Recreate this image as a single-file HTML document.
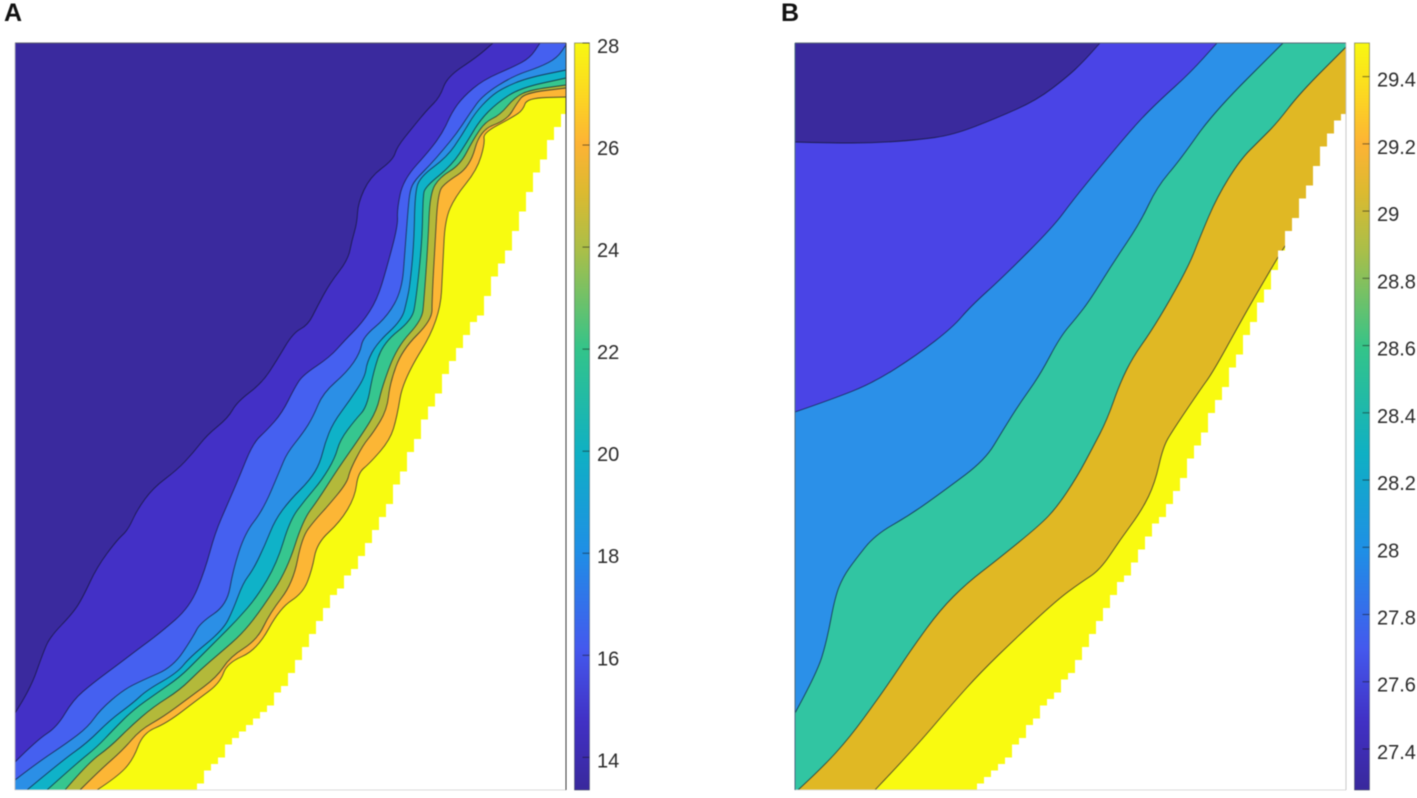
<!DOCTYPE html>
<html lang="en">
<head>
<meta charset="utf-8">
<title>Contour panels A and B</title>
<style>
  html, body { margin: 0; padding: 0; background: #fff; }
  svg { display: block; }
  text { font-family: "Liberation Sans", sans-serif; }
</style>
</head>
<body>
<svg id="figure" xmlns="http://www.w3.org/2000/svg" width="1417" height="798" viewBox="0 0 1417 798">
  <defs>
    <linearGradient id="cmap" x1="0" y1="1" x2="0" y2="0">
      <stop offset="0" stop-color="#39299c"/>
      <stop offset="0.09" stop-color="#4130c4"/>
      <stop offset="0.19" stop-color="#4459ee"/>
      <stop offset="0.32" stop-color="#1f8fe6"/>
      <stop offset="0.45" stop-color="#0fb0c4"/>
      <stop offset="0.59" stop-color="#33c48a"/>
      <stop offset="0.72" stop-color="#a8bf4a"/>
      <stop offset="0.80" stop-color="#dcba30"/>
      <stop offset="0.865" stop-color="#fdb335"/>
      <stop offset="0.93" stop-color="#fcd722"/>
      <stop offset="1" stop-color="#f8f812"/>
    </linearGradient>
  </defs>
  <g id="root" style="filter:blur(0.55px)">
    <g id="panel-a"></g>
    <g id="panel-b"></g>
    <text x="4" y="21" font-size="25" font-weight="bold" fill="#111">A</text>
    <text x="781" y="21" font-size="25" font-weight="bold" fill="#111">B</text>
  </g>
</svg>
<script>
// Shared data-axis extents (distance along x, distance along y from the lower-left corner)
const xExtent = [0, 551];
const yExtent = [0, 747];

// Panel A: contour lines, low to high temperature
const contourA1 = [[0,77],[15,100],[28,137],[35,153],[58,177],[68,193],[82,223],[102,250],[113,260],[122,280],[138,302],[162,320],[178,337],[192,355],[213,372],[222,388],[247,407],[262,430],[278,457],[293,465],[302,483],[315,507],[333,530],[337,550],[342,567],[343,587],[355,613],[378,630],[382,643],[398,663],[412,680],[425,693],[432,713],[462,733],[478,747]];
const contourA2 = [[0,28],[22,50],[42,63],[58,90],[78,107],[105,127],[122,140],[145,157],[175,183],[190,220],[200,257],[213,287],[223,310],[238,347],[252,360],[267,377],[280,403],[288,415],[315,433],[330,450],[347,467],[362,490],[372,523],[383,565],[382,580],[388,610],[415,640],[428,658],[437,678],[448,693],[468,710],[498,723],[515,732],[525,747]];
const contourA3 = [[0,10],[22,27],[52,47],[73,63],[85,80],[108,100],[128,110],[158,123],[178,153],[185,167],[212,185],[218,220],[230,257],[248,280],[265,320],[272,337],[288,357],[298,373],[308,397],[332,418],[345,437],[348,453],[372,473],[387,500],[390,540],[393,580],[395,600],[400,610],[415,625],[428,640],[442,657],[455,677],[468,695],[498,714],[525,723],[542,732],[551,745]];
const contourA4 = [[12,0],[48,30],[72,47],[95,70],[118,87],[132,100],[162,117],[175,133],[208,160],[218,180],[228,207],[238,220],[250,245],[260,270],[275,290],[295,310],[305,327],[310,347],[318,367],[335,390],[350,413],[352,428],[362,447],[387,470],[392,490],[395,505],[399,547],[400,597],[405,613],[432,633],[447,655],[460,677],[475,693],[488,702],[512,712],[551,720]];
const contourA5 = [[32,0],[62,27],[82,43],[98,60],[118,80],[142,97],[165,113],[182,130],[202,150],[222,170],[242,193],[262,227],[275,270],[290,290],[307,310],[320,332],[325,350],[340,370],[352,383],[358,417],[368,447],[397,470],[401,490],[407,547],[408,593],[410,603],[437,625],[452,648],[465,670],[482,687],[505,702],[551,712]];
const contourA6 = [[50,0],[73,27],[95,43],[115,63],[138,83],[165,100],[185,120],[205,137],[228,157],[248,183],[272,220],[288,270],[303,290],[322,320],[348,357],[362,380],[367,403],[382,443],[407,470],[409,490],[413,547],[415,597],[425,613],[445,625],[458,650],[470,668],[485,675],[500,693],[515,700],[551,705]];
const contourA7 = [[65,0],[85,20],[108,40],[125,60],[148,73],[175,93],[202,113],[215,133],[242,150],[255,177],[278,207],[287,253],[300,270],[312,283],[332,307],[335,320],[348,345],[358,357],[372,380],[375,407],[387,440],[417,470],[417,490],[420,547],[423,597],[430,607],[455,623],[465,660],[492,670],[502,687],[510,697],[551,702]];
const contourA8 = [[82,0],[102,13],[118,30],[128,57],[152,67],[182,90],[205,107],[212,127],[242,140],[265,182],[288,197],[297,220],[302,247],[325,268],[340,293],[343,317],[355,327],[375,350],[382,373],[388,410],[425,470],[428,527],[430,570],[440,593],[462,620],[470,647],[468,657],[498,673],[508,680],[512,692],[551,693]];
const coastA = [[178,0],[218,50],[252,80],[275,113],[302,167],[318,193],[338,220],[355,253],[375,290],[402,350],[425,403],[438,432],[452,457],[465,473],[478,507],[498,553],[518,607],[535,650],[551,680]];

// Panel B: contour lines, low to high temperature
const contourB1 = [[0,648],[35,647],[78,647],[122,650],[158,655],[202,672],[242,690],[272,713],[288,728],[305,747]];
const contourB2 = [[0,378],[35,390],[78,407],[122,435],[158,463],[175,483],[208,513],[258,563],[278,590],[305,623],[342,667],[365,690],[395,717],[422,747]];
const contourB3 = [[0,77],[22,117],[32,150],[40,193],[48,213],[60,230],[80,255],[115,275],[150,300],[190,330],[208,360],[225,387],[245,415],[265,453],[282,473],[295,490],[318,527],[345,567],[362,603],[385,630],[418,677],[488,747]];
const contourB4 = [[3,0],[28,23],[55,53],[82,90],[98,113],[118,143],[145,180],[172,207],[202,230],[245,265],[262,283],[282,313],[298,343],[312,370],[325,407],[338,433],[355,457],[375,490],[395,527],[405,553],[422,593],[445,630],[465,650],[482,667],[505,697],[551,743]];
const contourB5 = [[80,0],[118,40],[158,87],[185,117],[222,153],[262,190],[285,207],[305,220],[325,250],[347,280],[360,307],[368,343],[378,360],[405,400],[418,418],[445,467],[458,490],[483,533],[492,547]];
const coastB = [[180,0],[212,33],[238,70],[265,100],[285,133],[338,227],[378,293],[402,343],[425,393],[442,433],[462,477],[475,510],[492,557],[518,610],[528,643],[545,673],[551,680]];

// Colorbar values
const colorbarDomainA = [13.36, 28];
const colorbarTicksA = [14, 16, 18, 20, 22, 24, 26, 28];
const colorbarLabelsA = ['14', '16', '18', '20', '22', '24', '26', '28'];
const colorbarDomainB = [27.278, 29.5];
const colorbarTicksB = [27.4, 27.6, 27.8, 28, 28.2, 28.4, 28.6, 28.8, 29, 29.2, 29.4];
const colorbarLabelsB = ['27.4', '27.6', '27.8', '28', '28.2', '28.4', '28.6', '28.8', '29', '29.2', '29.4'];

// Band palettes
const bandColorsA = ['#3a2a9e', '#4330c6', '#4560f0', '#2b8fe6', '#0fb2c8', '#36c68f', '#b3b93a', '#fcb635', '#f8fb10'];
const bandColorsB = ['#3a2a9d', '#4a44e6', '#2b90e8', '#31c5a2', '#e0b824', '#f9fa10'];

const SVGNS = 'http://www.w3.org/2000/svg';

function scaleLinear(domain, range) {
  return function (v) {
    return range[0] + (v - domain[0]) / (domain[1] - domain[0]) * (range[1] - range[0]);
  };
}

function linePath(points, sx, sy) {
  const px = points.map(function (p) { return [sx(p[0]), sy(p[1])]; });
  let d = 'M' + px[0][0] + ' ' + px[0][1];
  for (let i = 1; i < px.length - 1; i++) {
    const mx = (px[i][0] + px[i + 1][0]) / 2;
    const my = (px[i][1] + px[i + 1][1]) / 2;
    d += 'Q' + px[i][0] + ' ' + px[i][1] + ' ' + mx + ' ' + my;
  }
  const last = px[px.length - 1];
  return d + 'L' + last[0] + ' ' + last[1];
}

function coastXAt(coast, y) {
  for (let i = 0; i < coast.length - 1; i++) {
    if (y <= coast[i + 1][1]) {
      const t = (y - coast[i][1]) / (coast[i + 1][1] - coast[i][1]);
      return coast[i][0] + t * (coast[i + 1][0] - coast[i][0]);
    }
  }
  return coast[coast.length - 1][0];
}

function landPath(coast, sx, sy) {
  const rowH = 6.5;
  const colW = 7;
  const topY = coast[coast.length - 1][1];
  let d = 'M' + sx(xExtent[1]) + ' ' + sy(yExtent[0]) + 'L' + sx(coast[0][0]) + ' ' + sy(yExtent[0]);
  for (let y = yExtent[0]; y < topY; y += rowH) {
    const cx = Math.round(coastXAt(coast, y + rowH / 2) / colW) * colW;
    const x = sx(Math.min(cx, xExtent[1]));
    d += 'L' + x + ' ' + sy(y) + 'L' + x + ' ' + sy(Math.min(y + rowH, topY));
  }
  return d + 'L' + sx(xExtent[1]) + ' ' + sy(topY) + 'Z';
}

function drawPanel(cfg) {
  const g = document.getElementById(cfg.groupId);
  const sx = scaleLinear(xExtent, [cfg.x0, cfg.x0 + 551]);
  const sy = scaleLinear(yExtent, [790, 43]);

  const base = document.createElementNS(SVGNS, 'rect');
  
  
  base.setAttribute('x', sx(xExtent[0]));
  base.setAttribute('y', sy(yExtent[1]));
  base.setAttribute('width', sx(xExtent[1]) - sx(xExtent[0]));
  base.setAttribute('height', sy(yExtent[0]) - sy(yExtent[1]));
  base.setAttribute('fill', cfg.colors[0]);
  g.appendChild(base);

  cfg.contours.forEach(function (pts, i) {
    const start = pts[0];
    const end = pts[pts.length - 1];
    let d = linePath(pts, sx, sy);
    if (end[1] >= yExtent[1]) d += 'L' + sx(xExtent[1]) + ' ' + sy(yExtent[1]);
    d += 'L' + sx(xExtent[1]) + ' ' + sy(yExtent[0]);
    if (start[0] <= xExtent[0]) d += 'L' + sx(xExtent[0]) + ' ' + sy(yExtent[0]);
    d += 'Z';
    const band = document.createElementNS(SVGNS, 'path');
    
    
    band.setAttribute('d', d);
    band.setAttribute('fill', cfg.colors[i + 1]);
    g.appendChild(band);
  });

  cfg.contours.forEach(function (pts) {
    const line = document.createElementNS(SVGNS, 'path');
    
    
    line.setAttribute('d', linePath(pts, sx, sy));
    line.setAttribute('fill', 'none');
    line.setAttribute('stroke', 'rgba(15,20,40,0.72)');
    line.setAttribute('stroke-width', '0.9');
    line.setAttribute('stroke-linejoin', 'round');
    g.appendChild(line);
  });

  const land = document.createElementNS(SVGNS, 'path');
  
  
  land.setAttribute('d', landPath(cfg.coast, sx, sy));
  land.setAttribute('fill', '#fff');
  g.appendChild(land);

  const edges = [
    [sx(xExtent[0]), sy(yExtent[1]), sx(xExtent[1]), sy(yExtent[1]), cfg.topColor],
    [sx(xExtent[0]), sy(yExtent[0]), sx(xExtent[1]), sy(yExtent[0]), '#dcdcdc'],
    [sx(xExtent[0]), sy(yExtent[0]), sx(xExtent[0]), sy(yExtent[1]), cfg.leftColor],
    [sx(xExtent[1]), sy(yExtent[0]), sx(xExtent[1]), sy(yExtent[1]), cfg.rightColor]
  ];
  edges.forEach(function (e) {
    const edge = document.createElementNS(SVGNS, 'line');
    
    
    edge.setAttribute('x1', e[0]);
    edge.setAttribute('y1', e[1]);
    edge.setAttribute('x2', e[2]);
    edge.setAttribute('y2', e[3]);
    edge.setAttribute('stroke', e[4]);
    edge.setAttribute('stroke-width', '1');
    g.appendChild(edge);
  });

  const barX = cfg.x0 + 559.5;
  const barW = 15;
  const sc = scaleLinear(cfg.barDomain, [790, 43]);

  const bar = document.createElementNS(SVGNS, 'rect');
  
  
  bar.setAttribute('x', barX);
  bar.setAttribute('y', sc(cfg.barDomain[1]));
  bar.setAttribute('width', barW);
  bar.setAttribute('height', sc(cfg.barDomain[0]) - sc(cfg.barDomain[1]));
  bar.setAttribute('fill', 'url(#cmap)');
  bar.setAttribute('stroke', 'rgba(60,70,70,0.6)');
  bar.setAttribute('stroke-width', '0.8');
  g.appendChild(bar);

  cfg.ticks.forEach(function (v, i) {
    const tick = document.createElementNS(SVGNS, 'line');
    
    
    tick.setAttribute('x1', barX + barW - 7);
    tick.setAttribute('x2', barX + barW);
    tick.setAttribute('y1', sc(v));
    tick.setAttribute('y2', sc(v));
    tick.setAttribute('stroke', 'rgba(20,20,20,0.55)');
    tick.setAttribute('stroke-width', '1');
    g.appendChild(tick);

    const label = document.createElementNS(SVGNS, 'text');
    
    
    label.setAttribute('x', barX + 22.5);
    label.setAttribute('y', sc(v) + 10);
    label.setAttribute('font-size', '20');
    label.setAttribute('fill', '#2a2a2a');
    label.textContent = cfg.labels[i];
    g.appendChild(label);
  });
}

drawPanel({
  groupId: 'panel-a', x0: 15,
  contours: [contourA1, contourA2, contourA3, contourA4, contourA5, contourA6, contourA7, contourA8],
  coast: coastA, colors: bandColorsA,
  barDomain: colorbarDomainA, ticks: colorbarTicksA, labels: colorbarLabelsA,
  topColor: '#5c5c70', leftColor: '#b8b8c0', rightColor: '#3a3a3a'
});
drawPanel({
  groupId: 'panel-b', x0: 795,
  contours: [contourB1, contourB2, contourB3, contourB4, contourB5],
  coast: coastB, colors: bandColorsB,
  barDomain: colorbarDomainB, ticks: colorbarTicksB, labels: colorbarLabelsB,
  topColor: '#5c6a78', leftColor: '#4a6a80', rightColor: '#c8c8c8'
});
</script>
</body>
</html>
